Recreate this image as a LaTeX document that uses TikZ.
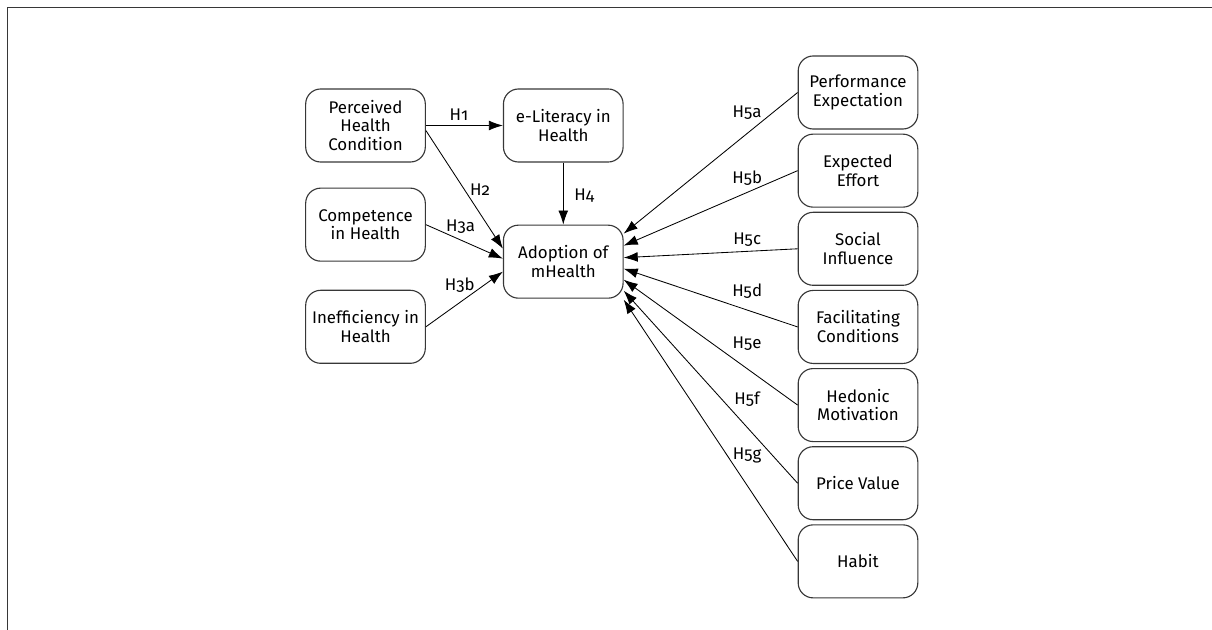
\documentclass[tikz,border=0pt]{standalone}
\usepackage{fontspec}
\setmainfont{Fira Sans}[Numbers=OldStyle]
\usetikzlibrary{arrows.meta,positioning}
\definecolor{linegray}{RGB}{55,55,55}

\begin{document}
\begin{tikzpicture}[x=0.025cm, y=-0.025cm, node distance=0.1cm, >={Latex[length=10pt,width=7pt]},
  every node/.style={font=\fontsize{12}{13.4}\selectfont},
  box/.style={draw=linegray, line width=0.8pt, rounded corners=0.375cm, minimum width=2.99cm, minimum height=1.825cm, align=center, inner sep=2pt},
  hyp/.style={->, line width=0.6pt},
  lab/.style={inner sep=0pt}]
\useasboundingbox (0,0) rectangle (1212,630);
\draw[linegray, line width=0.9pt] (1212,7.5) -- (7.5,7.5) -- (7.5,630);
% left column and centre
\node[box] (phc) at (365.5,125.5) {Perceived\\Health\\Condition};
\node[box, right=1.925cm of phc] (elit) {e-Literacy in\\Health};
\node[box, below=0.625cm of phc] (comp) {Competence\\in Health};
\node[box, below=0.7cm of comp] (ineff) {Inefficiency in\\Health};
\node[box, below=1.55cm of elit] (adopt) {Adoption of\\mHealth};
% right column
\node[box] (perf) at (858,92.5) {Performance\\Expectation};
\node[box, below=of perf] (effort) {Expected\\Effort};
\node[box, below=of effort] (social) {Social\\Influence};
\node[box, below=of social] (facil) {Facilitating\\Conditions};
\node[box, below=of facil] (hedon) {Hedonic\\Motivation};
\node[box, below=of hedon] (price) {Price Value};
\node[box, below=of price] (habit) {Habit};
% hypotheses
\draw[hyp] (phc.east) -- node[lab, pos=0.43, yshift=0.275cm] {H1} (elit.west);
\draw[hyp] ([yshift=-0.125cm]phc.east) -- node[lab, pos=0.5, xshift=0.39cm] {H2} ([yshift=0.325cm]adopt.west);
\draw[hyp] (comp.east) -- node[lab, pos=0.45, yshift=0.335cm] {H3a} ([yshift=0.075cm]adopt.west);
\draw[hyp] (ineff.east) -- node[lab, pos=0.44, yshift=0.425cm] {H3b} ([yshift=-0.25cm]adopt.west);
\draw[hyp] (elit) -- node[lab, pos=0.53, xshift=0.525cm] {H4} (adopt);
\foreach \src/\dy/\tag/\up in {perf/0.7/a/0.525, effort/0.4/b/0.36, social/0.1/c/0.3, facil/-0.175/d/0.475,
    hedon/-0.45/e/0.625, price/-0.725/f/0.7, habit/-0.95/g/0.75}
  \draw[hyp] (\src.west) -- node[lab, pos=0.29, yshift=\up cm] {H5\tag} ([yshift=\dy cm]adopt.east);
\end{tikzpicture}
\end{document}
